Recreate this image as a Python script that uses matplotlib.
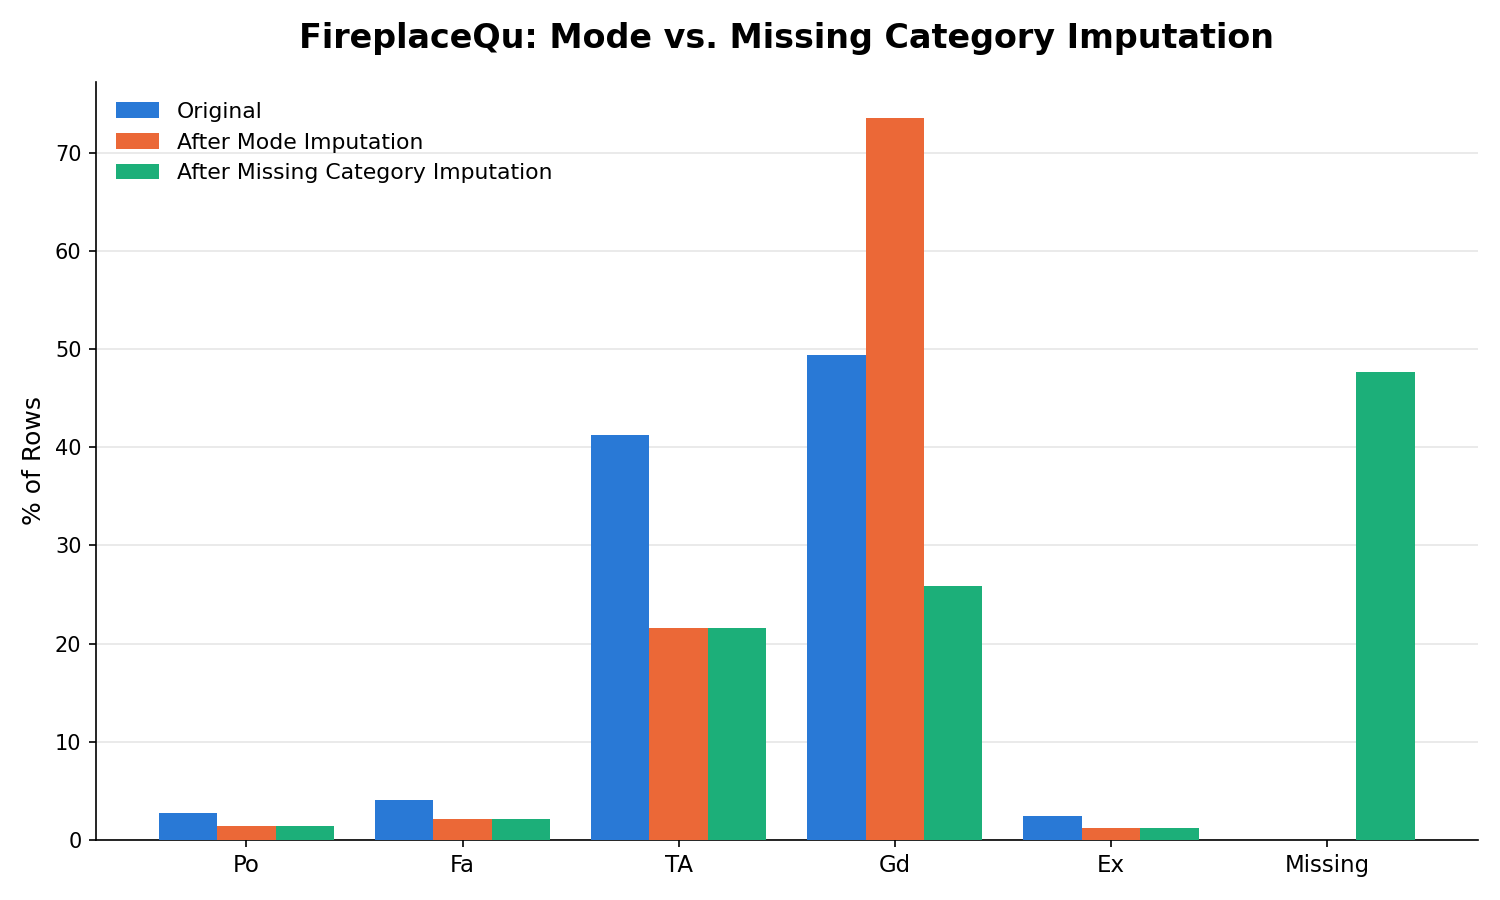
import numpy as np
import matplotlib.pyplot as plt

categories = ["Po", "Fa", "TA", "Gd", "Ex", "Missing"]
original = [2.75, 4.08, 41.27, 49.42, 2.45, 0.0]
after_mode = [1.43, 2.14, 21.6, 73.57, 1.22, 0.0]
after_missing = [1.43, 2.14, 21.6, 25.88, 1.22, 47.69]

series_names = ["Original", "After Mode Imputation", "After Missing Category Imputation"]
colors = ["#2979d6", "#eb6837", "#1caf79"]

fig, ax = plt.subplots(figsize=(10, 6), dpi=150)
fig.subplots_adjust(left=0.064, right=0.985, top=0.909, bottom=0.067)

x = np.arange(len(categories))
w = 0.27
for i, (vals, name, c) in enumerate(zip([original, after_mode, after_missing], series_names, colors)):
    ax.bar(x + (i - 1) * w, vals, width=w, color=c, label=name, zorder=3)

ax.set_xticks(x)
ax.set_xticklabels(categories, fontsize=11)
ax.tick_params(axis="y", labelsize=10)
ax.set_ylabel("% of Rows", fontsize=12)
ax.set_title("FireplaceQu: Mode vs. Missing Category Imputation", fontsize=16, fontweight="bold", pad=16.5)
ax.grid(axis="y", color="#e6e6e6", linewidth=0.8, zorder=0)
ax.set_axisbelow(True)
ax.spines["top"].set_visible(False)
ax.spines["right"].set_visible(False)
ax.legend(frameon=False, fontsize=10.5, loc="upper left")

fig.savefig("out.png")
